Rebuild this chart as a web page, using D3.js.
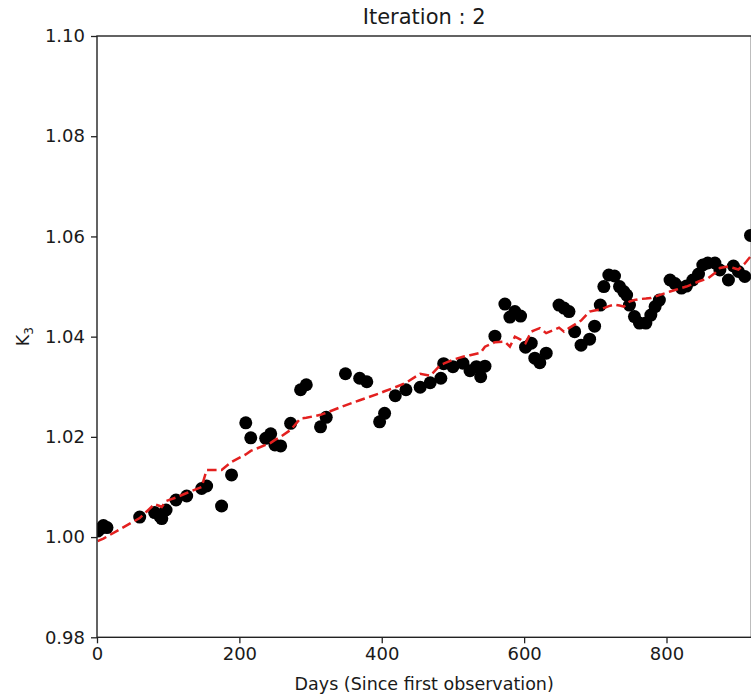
<!DOCTYPE html>
<html>
<head>
<meta charset="utf-8">
<script src="https://cdn.jsdelivr.net/npm/d3@7"></script>
<style>
  html, body { margin: 0; padding: 0; background: #fff; }
  svg { display: block; font-family: "DejaVu Sans", sans-serif; }
</style>
</head>
<body>
<svg id="chart" width="751" height="696"></svg>
<script>
// Observation days and measured K3 values
const days = [1, 4, 9, 14, 60, 81, 88, 91, 97, 111, 126, 147, 154, 175, 189,
  209, 216, 237, 244, 250, 258, 272, 286, 294, 314, 322, 349, 369, 379, 397,
  404, 419, 434, 454, 468, 483, 487, 500, 514, 524, 533, 539, 545, 559, 573,
  580, 587, 595, 602, 610, 615, 622, 631, 649, 656, 663, 671, 680, 692, 699,
  707, 712, 719, 727, 734, 740, 744, 748, 755, 762, 771, 778, 784, 790, 805,
  812, 821, 828, 837, 845, 851, 858, 868, 875, 887, 894, 901, 910, 918];

const k3 = [1.0012, 1.0016, 1.0023, 1.0019, 1.0040, 1.0049, 1.0042, 1.0037, 1.0054, 1.0074, 1.0082, 1.0097, 1.0102, 1.0062, 1.0124,
  1.0228, 1.0198, 1.0197, 1.0206, 1.0184, 1.0182, 1.0227, 1.0294, 1.0304, 1.0220, 1.0239, 1.0326, 1.0317, 1.0310, 1.0230,
  1.0247, 1.0282, 1.0294, 1.0299, 1.0308, 1.0317, 1.0346, 1.0340, 1.0347, 1.0332, 1.0340, 1.0320, 1.0341, 1.0401, 1.0465,
  1.0439, 1.0450, 1.0441, 1.0379, 1.0387, 1.0357, 1.0348, 1.0367, 1.0463, 1.0457, 1.0450, 1.0410, 1.0383, 1.0395, 1.0421,
  1.0463, 1.0500, 1.0523, 1.0521, 1.0500, 1.0490, 1.0483, 1.0463, 1.0440, 1.0427, 1.0427, 1.0443, 1.0460, 1.0473, 1.0513,
  1.0506, 1.0497, 1.0501, 1.0513, 1.0525, 1.0543, 1.0547, 1.0547, 1.0533, 1.0513, 1.0541, 1.0530, 1.0520, 1.0602];

// Model prediction at each observation day
const k3Fit = [0.9992, 0.9994, 0.9997, 1.0001, 1.0038, 1.0066, 1.0062, 1.0060, 1.0072, 1.0079, 1.0088, 1.0100, 1.0134, 1.0134, 1.0150,
  1.0165, 1.0172, 1.0184, 1.0188, 1.0194, 1.0200, 1.0214, 1.0237, 1.0238, 1.0244, 1.0248, 1.0263, 1.0273, 1.0278, 1.0287,
  1.0291, 1.0299, 1.0308, 1.0326, 1.0322, 1.0344, 1.0346, 1.0354, 1.0360, 1.0363, 1.0366, 1.0368, 1.0380, 1.0389, 1.0390,
  1.0380, 1.0400, 1.0394, 1.0387, 1.0410, 1.0413, 1.0417, 1.0407, 1.0418, 1.0410, 1.0417, 1.0424, 1.0432, 1.0450, 1.0452,
  1.0454, 1.0457, 1.0461, 1.0464, 1.0462, 1.0460, 1.0465, 1.0470, 1.0473, 1.0475, 1.0476, 1.0477, 1.0480, 1.0483, 1.0490,
  1.0493, 1.0497, 1.0500, 1.0505, 1.0510, 1.0513, 1.0516, 1.0527, 1.0537, 1.0540, 1.0537, 1.0534, 1.0546, 1.0560];

const xTicks = [0, 200, 400, 600, 800];
const yTicks = [0.98, 1.00, 1.02, 1.04, 1.06, 1.08, 1.10];

const titleText = "Iteration : 2";
const xLabel = "Days (Since first observation)";

(function draw() {
  const svg = d3.select("#chart");
  const mLeft = 97, mRight = 750.5, mTop = 36, mBottom = 637.3;
  const frameRight = 751.4;

  const x = d3.scaleLinear().domain([0, 918]).range([mLeft, mRight]);
  const y = d3.scaleLinear().domain([0.98, 1.10]).range([mBottom, mTop]);

  svg.append("defs").append("clipPath").attr("id", "plot-clip")
    .append("rect").attr("x", mLeft).attr("y", mTop)
    .attr("width", frameRight - mLeft).attr("height", mBottom - mTop);

  const plot = svg.append("g").attr("clip-path", "url(#plot-clip)");

  // Observations
  plot.selectAll("circle.obs")
    .data(days.map((d, i) => ({ d, v: k3[i] })))
    .join("circle")
    .attr("class", "obs")
    .attr("cx", p => x(p.d))
    .attr("cy", p => y(p.v))
    .attr("r", 6.5)
    .attr("fill", "#000");

  // Fitted curve
  const line = d3.line().x(p => x(p.d)).y(p => y(p.v));
  plot.append("path")
    .datum(days.map((d, i) => ({ d, v: k3Fit[i] })))
    .attr("d", line)
    .attr("fill", "none")
    .attr("stroke", "#e3201f")
    .attr("stroke-width", 2.5)
    .attr("stroke-dasharray", "9.5,4.5");

  // Axes
  const xAxis = d3.axisBottom(x).tickValues(xTicks).tickFormat(d3.format("d"))
    .tickSize(6).tickPadding(4);
  const yAxis = d3.axisLeft(y).tickValues(yTicks).tickFormat(d3.format(".2f"))
    .tickSize(6).tickPadding(6);

  const gx = svg.append("g").attr("transform", `translate(0,${mBottom})`).call(xAxis);
  const gy = svg.append("g").attr("transform", `translate(${mLeft},0)`).call(yAxis);

  [gx, gy].forEach(g => {
    g.select(".domain").remove();
    g.selectAll(".tick line").attr("stroke", "#222").attr("stroke-width", 1.3);
    g.selectAll(".tick text").attr("fill", "#1a1a1a")
      .style("font-size", "18px").style("font-family", "DejaVu Sans");
  });

  // Frame
  svg.append("rect")
    .attr("x", mLeft).attr("y", mTop)
    .attr("width", frameRight - mLeft).attr("height", mBottom - mTop)
    .attr("fill", "none").attr("stroke", "#222").attr("stroke-width", 1.4);

  // Title and labels
  svg.append("text")
    .attr("x", (mLeft + frameRight) / 2).attr("y", 24)
    .attr("text-anchor", "middle")
    .attr("fill", "#1a1a1a")
    .style("font-size", "21px")
    .text(titleText);

  svg.append("text")
    .attr("x", (mLeft + frameRight) / 2).attr("y", 690)
    .attr("text-anchor", "middle")
    .attr("fill", "#1a1a1a")
    .style("font-size", "17.5px")
    .text(xLabel);

  const yl = svg.append("text")
    .attr("transform", `translate(29,${(mTop + mBottom) / 2}) rotate(-90)`)
    .attr("text-anchor", "middle")
    .attr("fill", "#1a1a1a")
    .style("font-size", "17.5px");
  yl.append("tspan").text("K");
  yl.append("tspan").attr("dy", 4).style("font-size", "12px").text("3");
})();
</script>
</body>
</html>
